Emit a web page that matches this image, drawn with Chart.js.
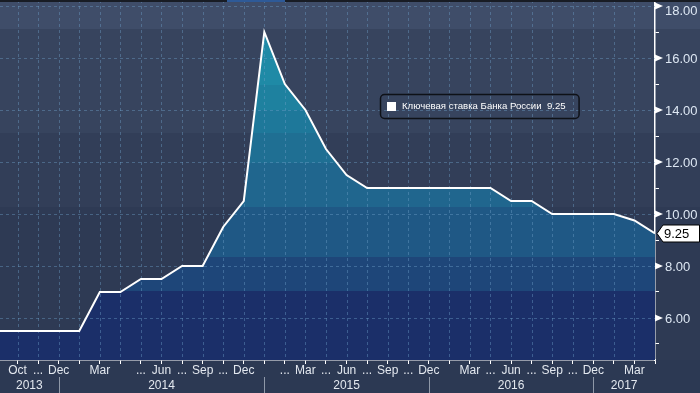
<!DOCTYPE html>
<html>
<head>
<meta charset="utf-8">
<script src="https://cdn.jsdelivr.net/npm/chart.js@4.4.1/dist/chart.umd.min.js"></script>
<style>
html,body{margin:0;padding:0;background:#2c3953;overflow:hidden}
#wrap{width:700px;height:393px;position:relative}
</style>
</head>
<body>
<div id="wrap"><canvas id="c" width="700" height="393"></canvas></div>
<script>
// ---- data (one point per Bank of Russia board meeting, evenly spaced) ----
const meetingDates = ['2013-09-13','2013-10-11','2013-11-08','2013-12-13','2014-02-14','2014-03-03','2014-03-14','2014-04-25','2014-06-16','2014-07-25','2014-09-12','2014-10-31','2014-12-11','2014-12-16','2015-01-30','2015-03-13','2015-04-30','2015-06-15','2015-07-31','2015-09-11','2015-10-30','2015-12-11','2016-01-29','2016-03-18','2016-04-29','2016-06-10','2016-07-29','2016-09-16','2016-10-28','2016-12-16','2017-02-03','2017-03-24','2017-04-28'];
const keyRate = [5.5,5.5,5.5,5.5,5.5,7.0,7.0,7.5,7.5,8.0,8.0,9.5,10.5,17.0,15.0,14.0,12.5,11.5,11.0,11.0,11.0,11.0,11.0,11.0,11.0,10.5,10.5,10.0,10.0,10.0,10.0,9.75,9.25];
const monthLabels = ['','Oct','...','Dec','','Mar','','...','Jun','...','Sep','...','Dec','','...','Mar','...','Jun','...','Sep','...','Dec','','Mar','...','Jun','...','Sep','...','Dec','','Mar',''];
const yearLabels = ['2013','2014','2015','2016','2017'];
const yearEndIndex = [3,13,21,29];
const yTickValues = [5,6,7,8,9,10,11,12,13,14,15,16,17,18];
const seriesName = 'Ключевая ставка Банка России';

// ---- styles ----
const FONT = '"Liberation Sans", Arial, sans-serif';
const fillBands = [ // [lower bound value, color]
  [-100,'#1b2f69'],[7.04,'#1e4679'],[8.35,'#1f5885'],[10.27,'#20668e'],
  [11.96,'#1f6f93'],[13.1,'#1e789a'],[14.0,'#1e819f'],[14.96,'#1f8aa6']
];
const bgBands = [
  [-100,'#2e3a54'],[10.27,'#323e58'],[13.1,'#37445e'],[17.1,'#3f4d69']
];
const gridColor = 'rgba(110,160,200,0.42)';

const points = keyRate.map((v,i)=>({x:i,y:v}));

function bandGradient(ctx, area, yScale, bands, top){
  const g = ctx.createLinearGradient(0, area.bottom, 0, top);
  const h = area.bottom - top;
  for (let i=0;i<bands.length;i++){
    const lo = bands[i][0];
    const hi = i+1<bands.length ? bands[i+1][0] : 1000;
    let f0 = lo < -50 ? 0 : (area.bottom - yScale.getPixelForValue(lo))/h;
    let f1 = hi > 500 ? 1 : (area.bottom - yScale.getPixelForValue(hi))/h;
    f0 = Math.min(1,Math.max(0,f0)); f1 = Math.min(1,Math.max(0,f1));
    g.addColorStop(f0, bands[i][1]);
    g.addColorStop(f1, bands[i][1]);
  }
  return g;
}

const bgPlugin = {
  id:'bgPlugin',
  beforeDraw(chart){
    const {ctx, chartArea:a, scales:{y}} = chart;
    ctx.save();
    ctx.fillStyle = '#2c3953';
    ctx.fillRect(0,0,chart.width,chart.height);
    ctx.fillStyle = bandGradient(ctx, a, y, bgBands, 0);
    ctx.fillRect(0,0,chart.width,a.bottom);
    ctx.restore();
  },
  beforeDatasetsDraw(chart){
    const {ctx, chartArea:a, scales:{x,y}} = chart;
    ctx.save();
    ctx.strokeStyle = gridColor;
    ctx.lineWidth = 1;
    ctx.setLineDash([3,3]);
    x.ticks.forEach(t=>{
      const px = Math.round(x.getPixelForValue(t.value))+0.5;
      if (px < a.left || px > a.right-2) return;
      ctx.beginPath(); ctx.moveTo(px,a.top); ctx.lineTo(px,a.bottom); ctx.stroke();
    });
    y.ticks.forEach(t=>{
      if (t.value % 2 !== 0) return;
      const py = Math.round(y.getPixelForValue(t.value))+0.5;
      ctx.beginPath(); ctx.moveTo(a.left,py); ctx.lineTo(a.right,py); ctx.stroke();
    });
    ctx.restore();
  },
  afterDraw(chart){
    const {ctx, chartArea:a, scales:{x,y}} = chart;
    ctx.save();
    // top strip
    ctx.fillStyle = '#181c24';
    ctx.fillRect(0,0,chart.width,2);
    ctx.fillStyle = '#2e5a98';
    ctx.fillRect(227,0,58,2);
    // y axis flags and labels
    ctx.font = '13px ' + FONT;
    ctx.textAlign = 'left';
    ctx.textBaseline = 'middle';
    y.ticks.forEach(t=>{
      if (t.value % 2 !== 0) return;
      const py = y.getPixelForValue(t.value);
      ctx.fillStyle = '#ffffff';
      ctx.beginPath();
      ctx.moveTo(a.right, py-3.5); ctx.lineTo(a.right+8, py); ctx.lineTo(a.right, py+3.5);
      ctx.closePath(); ctx.fill();
      ctx.fillStyle = '#dde7f3';
      ctx.fillText(t.value.toFixed(2), a.right+10, Math.max(py+1, 11.5));
    });
    // year labels and dividers
    ctx.strokeStyle = '#8e98a8';
    ctx.lineWidth = 1;
    ctx.fillStyle = '#e3e8ef';
    ctx.font = '12px ' + FONT;
    ctx.textAlign = 'center';
    let prev = Math.max(a.left, x.getPixelForValue(0));
    yearLabels.forEach((yl,i)=>{
      const end = i < yearEndIndex.length ? x.getPixelForValue(yearEndIndex[i]) : a.right;
      if (i < yearEndIndex.length){
        const px = Math.round(end)+0.5;
        ctx.beginPath(); ctx.moveTo(px, a.bottom+17); ctx.lineTo(px, chart.height); ctx.stroke();
      }
      ctx.fillText(yl, (prev+end)/2, a.bottom+25.5);
      prev = end;
    });
    // legend
    const last = keyRate[keyRate.length-1];
    const legendText = seriesName + '  ' + last.toFixed(2);
    ctx.font = '9.6px ' + FONT;
    const tw = ctx.measureText(legendText).width;
    const lx = 380.5, ly = 94.5, lh = 24, lw = tw + 35;
    ctx.strokeStyle = '#0e1117';
    ctx.lineWidth = 1.5;
    ctx.beginPath();
    ctx.roundRect(lx, ly, lw, lh, 4);
    ctx.stroke();
    ctx.fillStyle = '#ffffff';
    ctx.fillRect(387, 102, 9, 9);
    ctx.textAlign = 'left';
    ctx.fillText(legendText, 402, ly + lh/2);
    // last value tag
    const py = y.getPixelForValue(last);
    ctx.beginPath();
    ctx.moveTo(a.right+2, py);
    ctx.lineTo(a.right+8, py-8.5);
    ctx.lineTo(chart.width-0.5, py-8.5);
    ctx.lineTo(chart.width-0.5, py+8.5);
    ctx.lineTo(a.right+8, py+8.5);
    ctx.closePath();
    ctx.fillStyle = '#ffffff';
    ctx.fill();
    ctx.strokeStyle = '#000000';
    ctx.lineWidth = 1;
    ctx.stroke();
    ctx.fillStyle = '#000000';
    ctx.font = '13px ' + FONT;
    ctx.fillText(last.toFixed(2), a.right+9, py+0.5);
    ctx.restore();
  }
};

new Chart(document.getElementById('c'), {
  type:'line',
  data:{
    datasets:[{
      label: seriesName,
      data: points,
      borderColor:'#ffffff',
      borderWidth:2,
      pointRadius:0,
      tension:0,
      fill:'start',
      backgroundColor(context){
        const chart = context.chart;
        const a = chart.chartArea;
        if (!a) return 'rgba(0,0,0,0)';
        return bandGradient(chart.ctx, a, chart.scales.y, fillBands, a.top);
      }
    }]
  },
  options:{
    responsive:false,
    animation:false,
    devicePixelRatio:1,
    layout:{padding:0},
    plugins:{
      legend:{display:false},
      tooltip:{enabled:false},
      filler:{drawTime:'beforeDatasetsDraw'}
    },
    scales:{
      x:{
        type:'linear',
        min:0.146,
        max:32,
        afterBuildTicks(scale){
          scale.ticks = monthLabels.map((_,i)=>({value:i})).filter(t=>t.value>=scale.min);
        },
        afterFit(scale){
          scale.height = 33;
          scale.paddingLeft = 0; scale.paddingRight = 0;
        },
        border:{display:true,color:'#ffffff',width:1.5},
        grid:{display:true,drawOnChartArea:false,drawTicks:true,tickLength:4,tickColor:'#ffffff',tickWidth:1,tickBorderDash:[]},
        ticks:{
          autoSkip:false,maxRotation:0,minRotation:0,padding:-1,
          color:'#e3e8ef',font:{family:FONT,size:12},
          callback(v){ return monthLabels[v] ?? ''; }
        }
      },
      y:{
        type:'linear',
        position:'right',
        min:4.3846,
        max:18.2308,
        afterBuildTicks(scale){
          scale.ticks = yTickValues.map(v=>({value:v}));
        },
        afterFit(scale){
          scale.width = 45;
          scale.paddingTop = 0; scale.paddingBottom = 0;
        },
        border:{display:true,color:'#ffffff',width:1.5},
        grid:{display:true,drawOnChartArea:false,drawTicks:true,tickLength:4,tickWidth:1,tickBorderDash:[],
          tickColor(ctx){ return ctx.tick && ctx.tick.value % 2 !== 0 ? '#ffffff' : 'rgba(0,0,0,0)'; }
        },
        ticks:{display:false}
      }
    }
  },
  plugins:[bgPlugin]
});
</script>
</body>
</html>
